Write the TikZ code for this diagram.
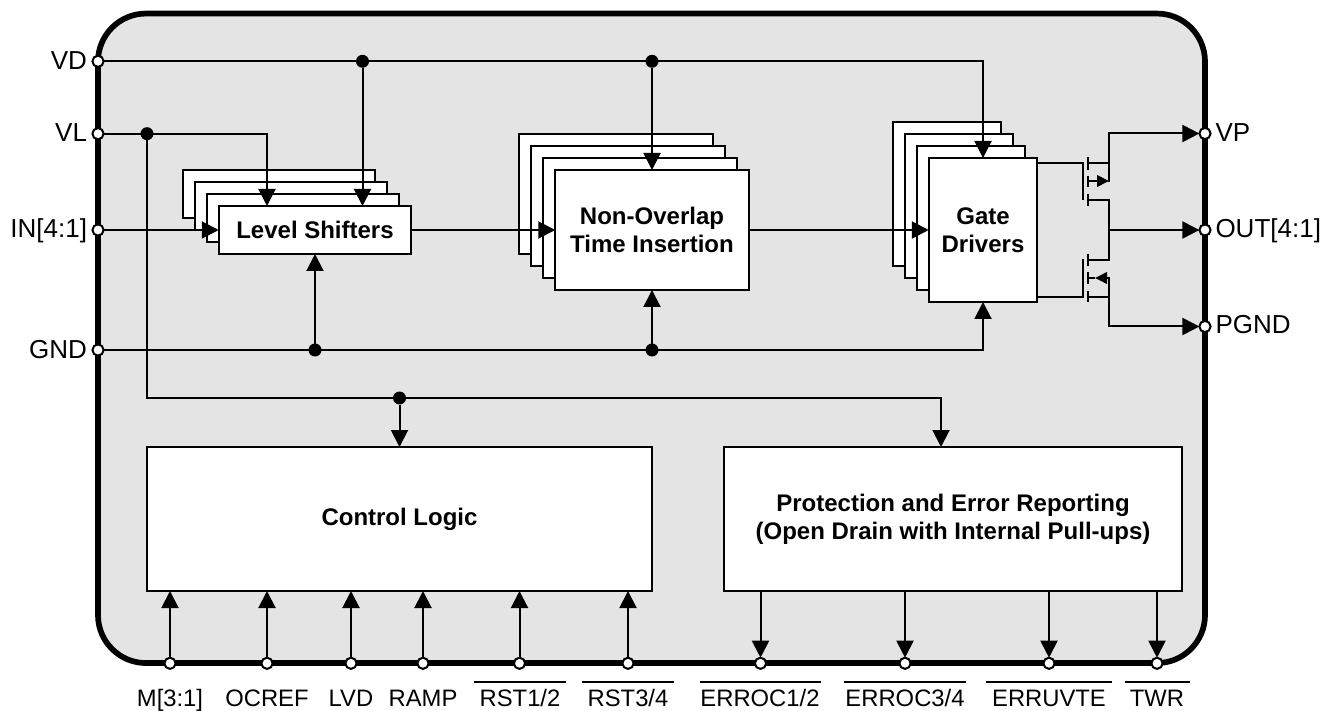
\documentclass[tikz,border=0pt]{standalone}
\usepackage{fontspec}
\setmainfont{Liberation Sans}
\usetikzlibrary{arrows.meta}
\definecolor{chipgrey}{HTML}{E4E4E4}
\tikzset{
  chip/.style={draw=black,fill=chipgrey,line width=5.7pt,rounded corners=48pt,minimum width=1107pt,minimum height=649.5pt,inner sep=0pt,outer sep=0pt},
  block/.style={draw=black,fill=white,line width=2pt,inner sep=0pt,outer sep=0pt,align=center,font=\fontsize{24}{28.2}\selectfont\bfseries},
  term/.style={circle,draw=black,fill=white,line width=2pt,minimum size=11.2pt,inner sep=0pt,outer sep=0pt},
  jdot/.style={circle,fill=black,minimum size=13pt,inner sep=0pt,outer sep=0pt},
  wire/.style={line width=2pt,line cap=butt},
  conn/.style={wire,-{Triangle[length=17pt,width=17pt]}},
  fet/.style={line width=2pt},
  fetarrow/.style={line width=2pt,-{Triangle[length=12pt,width=11.5pt]}},
  llbl/.style={inner sep=0pt,outer sep=0pt,font=\fontsize{26}{30}\selectfont,anchor=base east},
  rlbl/.style={inner sep=0pt,outer sep=0pt,font=\fontsize{26}{30}\selectfont,anchor=base west},
  blbl/.style={inner sep=0pt,outer sep=0pt,font=\fontsize{23.8}{28}\selectfont,anchor=base},
  obar/.style={line width=1.6pt},
}
\begin{document}
\begin{tikzpicture}[x=1pt,y=-1pt]
\useasboundingbox (0,0) rectangle (1336,711);
\node[chip] (chip) at (651.5,338.3) {};
% stacked blocks
\foreach \i/\o in {3/36,2/24,1/12}{
  \node[block,minimum width=192.5pt,minimum height=48pt] (lsb\i) at (315-\o,230-\o) {};
  \node[block,minimum width=193.5pt,minimum height=120pt] (nob\i) at (652-\o,230-\o) {};
  \node[block,minimum width=108.5pt,minimum height=144pt] (gdb\i) at (983-\o,230-\o) {};
}
\node[block,minimum width=192.5pt,minimum height=48pt] (ls) at (315,230) {Level Shifters};
\node[block,minimum width=193.5pt,minimum height=120pt] (no) at (652,230) {Non-Overlap\\Time Insertion};
\node[block,minimum width=108.5pt,minimum height=144pt] (gd) at (983,230) {Gate\\Drivers};
\node[block,minimum width=505pt,minimum height=144pt] (cl) at (399.5,519) {Control Logic};
\node[block,minimum width=458pt,minimum height=144pt] (pe) at (953,519) {Protection and Error Reporting\\(Open Drain with Internal Pull-ups)};
% terminals
\node[term] (vd) at (98,61.3) {};
\node[term] (vl) at (98,133.7) {};
\node[term] (in) at (98,230) {};
\node[term] (gnd) at (98,350) {};
\node[term] (vp) at (1205,133.5) {};
\node[term] (out) at (1205,230) {};
\node[term] (pgnd) at (1205,326.5) {};
\node[term] (m) at (170,663.3) {};
\node[term] (ocref) at (267,663.3) {};
\node[term] (lvd) at (351,663.3) {};
\node[term] (ramp) at (423,663.3) {};
\node[term] (rsta) at (519.5,663.3) {};
\node[term] (rstb) at (628,663.3) {};
\node[term] (erra) at (760.5,663.3) {};
\node[term] (errb) at (905,663.3) {};
\node[term] (erru) at (1049,663.3) {};
\node[term] (twr) at (1157,663.3) {};
% junctions
\node[jdot] (j1) at (362.5,61.3) {};
\node[jdot] (j2) at (652,61.3) {};
\node[jdot] (j3) at (147,133.7) {};
\node[jdot] (j4) at (315,350) {};
\node[jdot] (j5) at (652,350) {};
\node[jdot] (j6) at (399.5,398) {};
\coordinate (lsvl) at (267,206);
\coordinate (pevl) at (941,447);
% power rails
\draw[conn] (vd) -| (gd.north);
\draw[conn] (j1) -- (j1 |- ls.north);
\draw[conn] (j2) -- (no.north);
\draw[conn] (vl) -| (lsvl);
\draw[wire] (j3) |- (j6);
\draw[conn] (j6) -| (pevl);
\draw[conn] (j6) -- (cl.north);
\draw[conn] (gnd) -| (gd.south);
\draw[conn] (j4) -- (ls.south);
\draw[conn] (j5) -- (no.south);
% signal path
\draw[conn] (in) -- (ls.west);
\draw[conn] (ls.east) -- (no.west);
\draw[conn] (no.east) -- (gd.west);
% bottom pins
\foreach \p in {m,ocref,lvd,ramp,rsta,rstb}{
  \draw[conn] (\p) -- (\p |- cl.south);
}
\foreach \p in {erra,errb,erru,twr}{
  \draw[conn] (\p |- pe.south) -- (\p);
}
% output FETs
\coordinate (ga) at (gd.east |- 0,163.5);
\coordinate (gb) at (gd.east |- 0,296.7);
\coordinate (hga) at (1083,163.5);
\coordinate (hgb) at (1083,296.7);
\coordinate (rail) at (1109,230);
\draw[fet] (ga) -- (hga) -- (1083,200);
\draw[fet] (gb) -- (hgb) -- (1083,259);
\foreach \a/\b in {157.5/170,176/187,194/206,254/266,272/284,291/302}{
  \draw[fet] (1088,\a) -- (1088,\b);
}
\draw[fetarrow] (1088,181) -- (1109,181);
\draw[conn] (1088,163.5) -- (1109,163.5) -- (1109,133.5) -- (vp);
\draw[fet] (1109,163.5) -- (1109,182);
\draw[fet] (1088,199.7) -- (1109,199.7) -- (1109,260) -- (1088,260);
\draw[conn] (rail) -- (out);
\draw[fet] (1088,278) -- (1095,278);
\draw[fetarrow] (1107,278) -- (1095,278);
\draw[fet] (1100,278) -- (1109,278);
\draw[fet] (1088,296.7) -- (1109,296.7);
\draw[conn] (1109,277) -- (1109,326.5) -- (pgnd);
% pin labels
\node[llbl] at (87,69.3) {VD};
\node[llbl] at (87,141.7) {VL};
\node[llbl] at (87,238) {IN[4:1]};
\node[llbl] at (87,358) {GND};
\node[rlbl] at (1215.5,141.7) {VP};
\node[rlbl] at (1215.5,237.5) {OUT[4:1]};
\node[rlbl] at (1215.5,333.5) {PGND};
\node[blbl] at (170,706.5) {M[3:1]};
\node[blbl] at (267,706.5) {OCREF};
\node[blbl] at (351,706.5) {LVD};
\node[blbl] at (423,706.5) {RAMP};
\node[blbl] at (520,706.5) {RST1/2};
\node[blbl] at (628,706.5) {RST3/4};
\node[blbl] at (760,706.5) {ERROC1/2};
\node[blbl] at (905,706.5) {ERROC3/4};
\node[blbl] at (1049,706.5) {ERRUVTE};
\node[blbl] at (1157,706.5) {TWR};
\draw[obar] (473.5,681.7) -- (565.5,681.7);
\draw[obar] (582,681.7) -- (673.5,681.7);
\draw[obar] (699.5,681.7) -- (821,681.7);
\draw[obar] (844,681.7) -- (965.5,681.7);
\draw[obar] (986,681.7) -- (1112,681.7);
\draw[obar] (1125,681.7) -- (1189.5,681.7);
\end{tikzpicture}
\end{document}
